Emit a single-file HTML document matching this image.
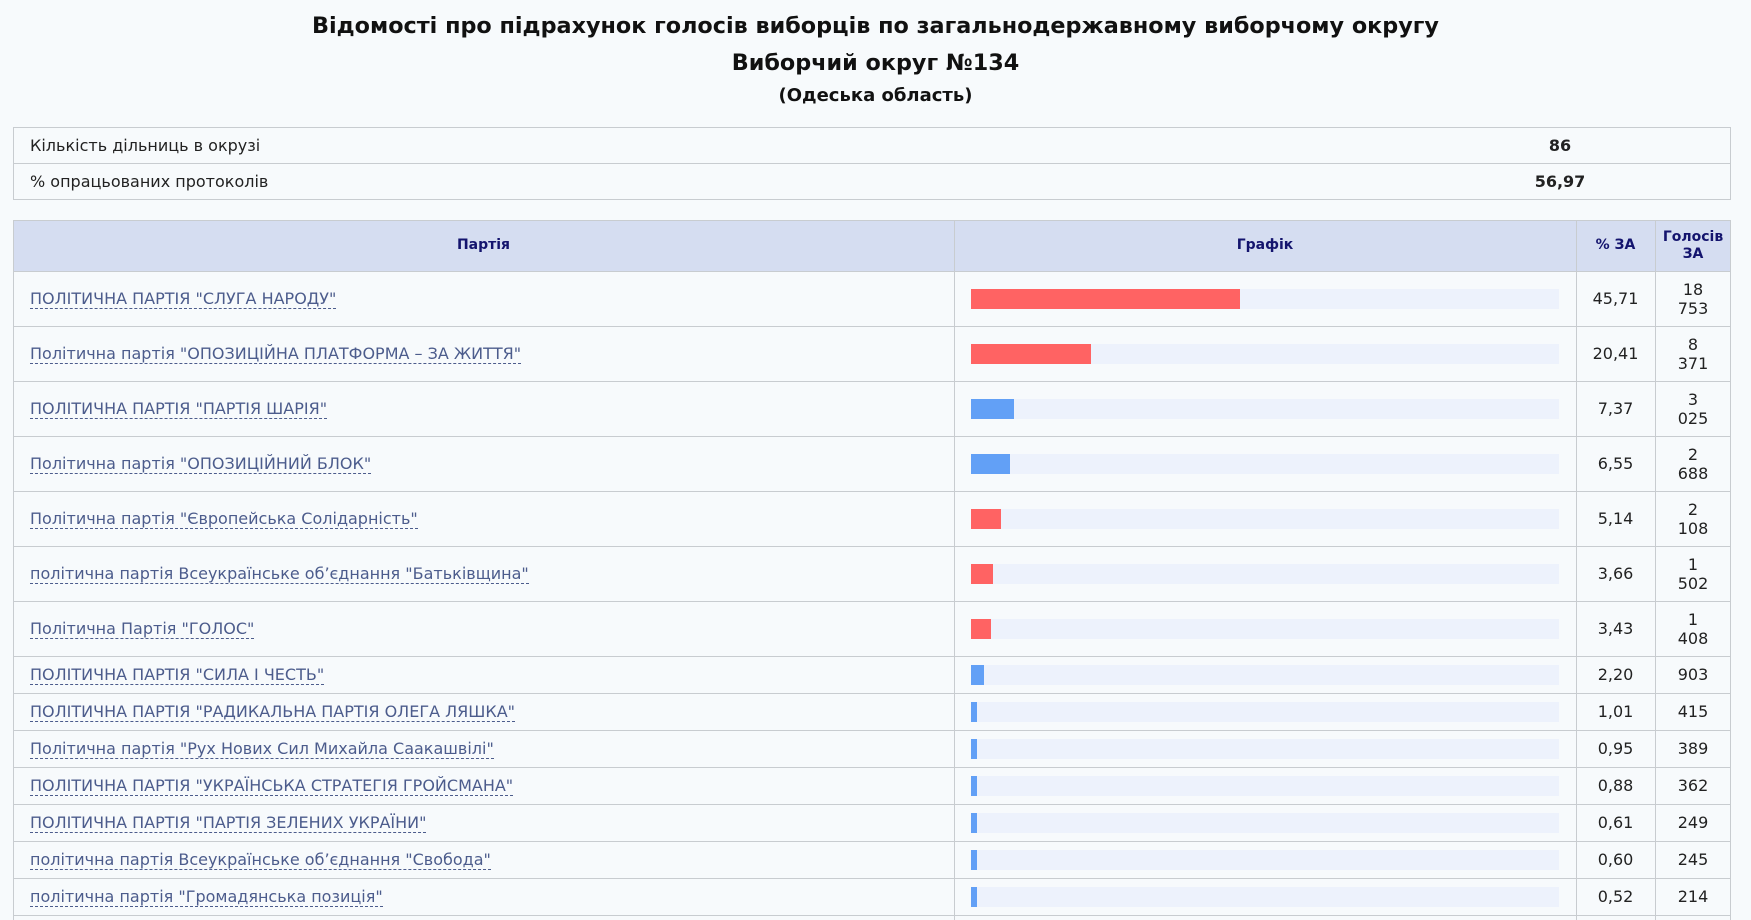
<!DOCTYPE html>
<html><head><meta charset="utf-8"><style>
body{margin:0;width:1751px;height:917px;background:#f7fafc;font-family:"DejaVu Sans","Liberation Sans",sans-serif;position:relative;overflow:hidden;color:#222}
.t{position:absolute;left:0;width:1751px;text-align:center;font-weight:bold;color:#111}
.box{position:absolute;left:13px;width:1718px;border:1px solid #c8ccd0;box-sizing:border-box}
.hl{position:absolute;height:1px;background:#c8ccd0}
.vl{position:absolute;width:1px;background:#c8ccd0}
.tx{position:absolute;font-size:16px;white-space:nowrap}
.a{color:#4c5c8c;border-bottom:1px dashed #4c5c8c;line-height:18px}
.c{text-align:center}
.trk{position:absolute;left:971px;width:588px;height:20px;background:#edf2fc}
.bar{position:absolute;left:0;top:0;height:20px}
.r{background:#ff6363}.b{background:#62a0f6}
.h{position:absolute;font-size:14px;font-weight:bold;color:#14146e;text-align:center}
</style></head><body>
<div class="t" style="top:13px;font-size:22.3px">Відомості про підрахунок голосів виборців по загальнодержавному виборчому округу</div>
<div class="t" style="top:50px;font-size:22.3px">Виборчий округ №134</div>
<div class="t" style="top:85px;font-size:18px">(Одеська область)</div>
<div class="box" style="top:127px;height:73px"></div>
<div class="hl" style="left:13px;width:1718px;top:163px"></div>
<div class="tx" style="left:30px;top:136px">Кількість дільниць в окрузі</div>
<div class="tx" style="left:30px;top:172px">% опрацьованих протоколів</div>
<div class="tx c" style="left:1500px;width:120px;top:136px;font-weight:bold;font-size:16px">86</div>
<div class="tx c" style="left:1500px;width:120px;top:172px;font-weight:bold;font-size:16px">56,97</div>
<div class="box" style="top:220px;height:700px;border-bottom:none"></div>
<div style="position:absolute;left:14px;top:221px;width:1716px;height:50px;background:#d5ddf1"></div>
<div class="h" style="left:13px;width:941px;top:237px">Партія</div>
<div class="h" style="left:954px;width:622px;top:237px">Графік</div>
<div class="h" style="left:1576px;width:79px;top:237px">% ЗА</div>
<div class="h" style="left:1655px;width:76px;top:229px;line-height:17px">Голосів<br>ЗА</div>
<div class="vl" style="left:954px;top:220px;height:700px"></div>
<div class="vl" style="left:1576px;top:220px;height:700px"></div>
<div class="vl" style="left:1655px;top:220px;height:700px"></div>
<div id="rows"></div>
<script>
const d=[["ПОЛІТИЧНА ПАРТІЯ \"СЛУГА НАРОДУ\"",45.71,"18<br>753","r"],
["Політична партія \"ОПОЗИЦІЙНА ПЛАТФОРМА – ЗА ЖИТТЯ\"",20.41,"8<br>371","r"],
["ПОЛІТИЧНА ПАРТІЯ \"ПАРТІЯ ШАРІЯ\"",7.37,"3<br>025","b"],
["Політична партія \"ОПОЗИЦІЙНИЙ БЛОК\"",6.55,"2<br>688","b"],
["Політична партія \"Європейська Солідарність\"",5.14,"2<br>108","r"],
["політична партія Всеукраїнське об’єднання \"Батьківщина\"",3.66,"1<br>502","r"],
["Політична Партія \"ГОЛОС\"",3.43,"1<br>408","r"],
["ПОЛІТИЧНА ПАРТІЯ \"СИЛА І ЧЕСТЬ\"",2.20,"903","b"],
["ПОЛІТИЧНА ПАРТІЯ \"РАДИКАЛЬНА ПАРТІЯ ОЛЕГА ЛЯШКА\"",1.01,"415","b"],
["Політична партія \"Рух Нових Сил Михайла Саакашвілі\"",0.95,"389","b"],
["ПОЛІТИЧНА ПАРТІЯ \"УКРАЇНСЬКА СТРАТЕГІЯ ГРОЙСМАНА\"",0.88,"362","b"],
["ПОЛІТИЧНА ПАРТІЯ \"ПАРТІЯ ЗЕЛЕНИХ УКРАЇНИ\"",0.61,"249","b"],
["політична партія Всеукраїнське об’єднання \"Свобода\"",0.60,"245","b"],
["політична партія \"Громадянська позиція\"",0.52,"214","b"]];
let y=271,h='';
d.forEach((r,i)=>{const H=i<7?55:37;const m=y+H/2;
h+=`<div class="hl" style="left:13px;width:1718px;top:${y}px"></div>`;
h+=`<div class="tx" style="left:30px;top:${m-10}px"><span class="a">${r[0]}</span></div>`;
h+=`<div class="trk" style="top:${m-10}px"><div class="bar ${r[3]}" style="width:${Math.max(6,r[1]*5.88)}px"></div></div>`;
h+=`<div class="tx c" style="left:1576px;width:79px;top:${m-10}px">${r[1].toFixed(2).replace('.',',')}</div>`;
h+=`<div class="tx c" style="left:1655px;width:76px;top:${i<7?m-19:m-10}px;line-height:19px">${r[2]}</div>`;
y+=H;});
h+=`<div class="hl" style="left:13px;width:1718px;top:${y}px"></div>`;
document.getElementById('rows').innerHTML=h;
</script>
</body></html>
